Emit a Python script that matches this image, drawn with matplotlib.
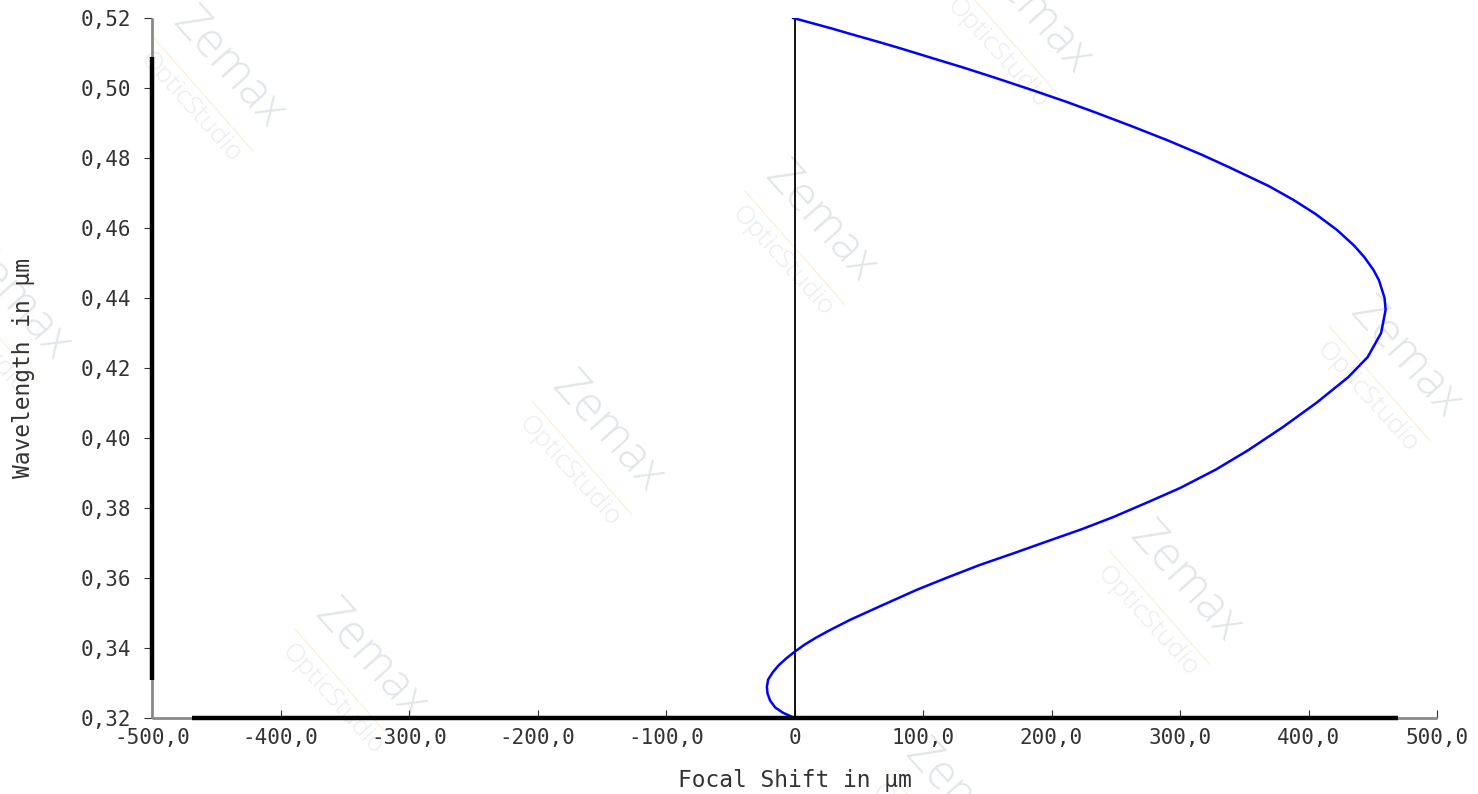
import matplotlib
matplotlib.use("Agg")
import matplotlib.pyplot as plt

# focal shift (um) against wavelength (um)
wavelength = [0.3200, 0.3215, 0.3230, 0.3250, 0.3270, 0.3289, 0.3310, 0.3330,
              0.3350, 0.3370, 0.3389, 0.3410, 0.3430, 0.3450, 0.3480, 0.3520,
              0.3566, 0.3600, 0.3637, 0.3670, 0.3700, 0.3740, 0.3774, 0.3815,
              0.3857, 0.3910, 0.3965, 0.4031, 0.4100, 0.4174, 0.4231, 0.4300,
              0.4366, 0.4400, 0.4451, 0.4480, 0.4517, 0.4550, 0.4594, 0.4640,
              0.4680, 0.4720, 0.4774, 0.4810, 0.4851, 0.4890, 0.4929, 0.4960,
              0.4994, 0.5030, 0.5060, 0.5080, 0.5111, 0.5130, 0.5155, 0.5170,
              0.5200]
focal_shift = [0.0, -9.0, -15.0, -19.0, -21.0, -21.5, -20.5, -17.0,
               -12.5, -6.5, 0.0, 8.0, 17.0, 27.0, 43.0, 67.0,
               95.0, 118.0, 144.0, 170.0, 193.0, 224.0, 248.0, 274.0,
               300.0, 328.0, 353.0, 380.0, 406.0, 431.0, 446.0, 456.5,
               460.0, 459.2, 454.8, 450.6, 443.4, 435.4, 422.3, 405.5,
               388.4, 369.0, 338.0, 316.5, 290.0, 263.0, 235.0, 212.0,
               185.0, 155.5, 130.0, 112.0, 84.5, 67.0, 43.0, 29.0,
               -1.0]

x_ticks = [-500, -400, -300, -200, -100, 0, 100, 200, 300, 400, 500]
x_labels = ["-500,0", "-400,0", "-300,0", "-200,0", "-100,0", "0",
            "100,0", "200,0", "300,0", "400,0", "500,0"]
y_ticks = [0.32, 0.34, 0.36, 0.38, 0.40, 0.42, 0.44, 0.46, 0.48, 0.50, 0.52]
y_labels = ["0,32", "0,34", "0,36", "0,38", "0,40", "0,42",
            "0,44", "0,46", "0,48", "0,50", "0,52"]

# watermark centres in pixels
marks = [(228, 68), (1035, 14), (820, 222), (607, 432), (1405, 358),
         (1185, 582), (370, 660), (14, 300), (960, 800)]

W, H = 1478, 794
fig = plt.figure(figsize=(W / 100, H / 100), dpi=100)
ax = fig.add_axes([152 / W, 1 - 718 / H, 1285 / W, 700 / H])
ax.set_xlim(-500, 500)
ax.set_ylim(0.32, 0.52)

mono = "DejaVu Sans Mono"
txt_color = "#333333"


def watermark(px, py):
    fx, fy = px / W, 1 - py / H
    ang = -48
    ax.text(fx, fy, "Zemax", transform=fig.transFigure, rotation=ang,
            rotation_mode="anchor", ha="center", va="center", fontsize=34,
            family="Open Sans", fontweight="light", color="#e2e6ea",
            zorder=0.5, clip_on=False)
    ax.text(fx - 38 / W, fy - 39 / H, "OpticStudio", transform=fig.transFigure,
            rotation=ang, rotation_mode="anchor", ha="center", va="center",
            fontsize=19, family="Open Sans", fontweight="light",
            color="#eaecef", zorder=0.5, clip_on=False)
    cx, cy = fx - 25 / W, fy - 26 / H
    ax.plot([cx - 50 / W, cx + 50 / W], [cy + 57 / H, cy - 57 / H],
            transform=fig.transFigure, color="#fcecdc", lw=0.8,
            zorder=0.5, clip_on=False)


for px, py in marks:
    watermark(px, py)

# zero reference line and the curve
ax.plot([0, 0], [0.32, 0.52], color="black", lw=1.3, zorder=2)
ax.plot(focal_shift, wavelength, color="#0000ff", lw=1.8, zorder=3,
        solid_joinstyle="round")

# axis bars: grey ends with a thick black middle
for s in ax.spines.values():
    s.set_visible(False)
ax.plot([0, 0], [0, 1], transform=ax.transAxes, color="#8a8a8a", lw=2.0,
        clip_on=False, zorder=4, solid_capstyle="butt")
ax.plot([0, 0], [0.054, 0.944], transform=ax.transAxes, color="black", lw=3.2,
        clip_on=False, zorder=5, solid_capstyle="butt")
ax.plot([0, 1], [0, 0], transform=ax.transAxes, color="#8a8a8a", lw=2.0,
        clip_on=False, zorder=4, solid_capstyle="butt")
ax.plot([0.031, 0.970], [0, 0], transform=ax.transAxes, color="black", lw=3.2,
        clip_on=False, zorder=5, solid_capstyle="butt")

ax.set_xticks(x_ticks)
ax.set_xticklabels(x_labels, family=mono, fontsize=15, color=txt_color)
ax.set_yticks(y_ticks)
ax.set_yticklabels(y_labels, family=mono, fontsize=15, color=txt_color)
ax.tick_params(axis="x", direction="in", length=6, width=0.8, pad=7, color="#333333")
ax.tick_params(axis="y", direction="out", length=6, width=0.8, pad=9, color="#333333")

ax.set_xlabel("Focal Shift in μm", family=mono, fontsize=16.5, color=txt_color,
              labelpad=15)
ax.set_ylabel("Wavelength in μm", family=mono, fontsize=16.5, color=txt_color,
              labelpad=33)

fig.savefig("out.png", dpi=100)
